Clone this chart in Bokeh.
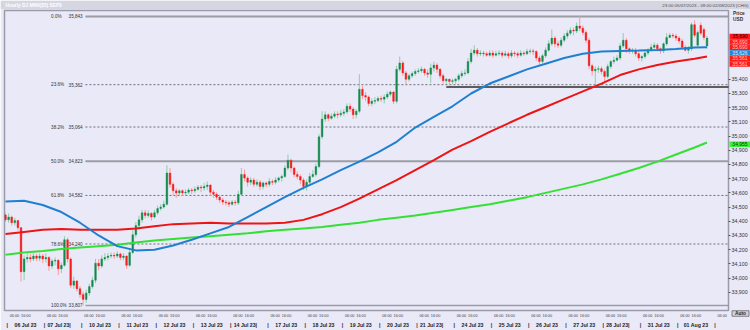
from bokeh.plotting import figure
from bokeh.models import (ColumnDataSource, Range1d, LinearAxis, FixedTicker,
                          NumeralTickFormatter, AllLabels)
from bokeh.core.properties import value
from bokeh.embed import file_html
from bokeh.resources import INLINE

# ---------------- data (2-hour candles, DJ MINI $5 SEP3) ----------------
opens = [
    34445, 34410, 34430, 34390, 34405, 34355, 34045, 34135, 34145, 34135, 34155, 34140,
    34155, 34135, 34145, 34085, 34120, 34125, 34065, 34090, 34270, 34135, 33950, 33980,
    33925, 33885, 33850, 33895, 33940, 33985, 34105, 34085, 34135, 34145, 34155, 34160,
    34155, 34170, 34145, 34155, 34090, 34180, 34305, 34370, 34410, 34460, 34440, 34455,
    34430, 34460, 34490, 34500, 34520, 34740, 34660, 34615, 34600, 34615, 34600, 34605,
    34620, 34615, 34625, 34640, 34635, 34645, 34655, 34605, 34590, 34570, 34550, 34535,
    34530, 34520, 34535, 34530, 34590, 34730, 34705, 34675, 34690, 34660, 34675, 34645,
    34670, 34660, 34680, 34675, 34690, 34705, 34715, 34775, 34830, 34775, 34730, 34715,
    34690, 34645, 34675, 34715, 34730, 34785, 34995, 35120, 35150, 35125, 35140, 35155,
    35150, 35160, 35170, 35210, 35190, 35150, 35175, 35330, 35285, 35275, 35230, 35245,
    35250, 35265, 35260, 35275, 35295, 35310, 35245, 35470, 35515, 35445, 35400, 35425,
    35440, 35455, 35460, 35470, 35445, 35435, 35480, 35500, 35470, 35425, 35390, 35400,
    35385, 35390, 35400, 35425, 35440, 35445, 35525, 35585, 35605, 35580, 35585, 35580,
    35570, 35585, 35570, 35580, 35585, 35570, 35580, 35565, 35585, 35580, 35570, 35585,
    35580, 35595, 35600, 35595, 35550, 35525, 35565, 35605, 35650, 35690, 35650, 35640,
    35675, 35705, 35725, 35745, 35740, 35775, 35760, 35730, 35675, 35495, 35460, 35470,
    35475, 35455, 35420, 35490, 35525, 35535, 35550, 35635, 35675, 35615, 35600, 35605,
    35580, 35550, 35560, 35585, 35605, 35625, 35640, 35615, 35600, 35650, 35695, 35710,
    35705, 35690, 35670, 35625, 35605, 35615, 35785, 35640, 35780, 35750, 35635,
]
closes = [
    34410, 34430, 34390, 34405, 34355, 34045, 34135, 34145, 34135, 34155, 34140, 34155,
    34135, 34145, 34085, 34120, 34125, 34065, 34090, 34270, 34135, 33950, 33980, 33925,
    33885, 33850, 33895, 33940, 33985, 34105, 34085, 34135, 34145, 34155, 34160, 34155,
    34170, 34145, 34155, 34090, 34180, 34305, 34370, 34410, 34460, 34440, 34455, 34430,
    34460, 34490, 34500, 34520, 34740, 34660, 34615, 34600, 34615, 34600, 34605, 34620,
    34615, 34625, 34640, 34635, 34645, 34655, 34605, 34590, 34570, 34550, 34535, 34530,
    34520, 34535, 34530, 34590, 34730, 34705, 34675, 34690, 34660, 34675, 34645, 34670,
    34660, 34680, 34675, 34690, 34705, 34715, 34775, 34830, 34775, 34730, 34715, 34690,
    34645, 34675, 34715, 34730, 34785, 34995, 35120, 35150, 35125, 35140, 35155, 35150,
    35160, 35170, 35210, 35190, 35150, 35175, 35330, 35285, 35275, 35230, 35245, 35250,
    35265, 35260, 35275, 35295, 35310, 35245, 35470, 35515, 35445, 35400, 35425, 35440,
    35455, 35460, 35470, 35445, 35435, 35480, 35500, 35470, 35425, 35390, 35400, 35385,
    35390, 35400, 35425, 35440, 35445, 35525, 35585, 35605, 35580, 35585, 35580, 35570,
    35585, 35570, 35580, 35585, 35570, 35580, 35565, 35585, 35580, 35570, 35585, 35580,
    35595, 35600, 35595, 35550, 35525, 35565, 35605, 35650, 35690, 35650, 35640, 35675,
    35705, 35725, 35745, 35740, 35775, 35760, 35730, 35675, 35495, 35460, 35470, 35475,
    35455, 35420, 35490, 35525, 35535, 35550, 35635, 35675, 35615, 35600, 35605, 35580,
    35550, 35560, 35585, 35605, 35625, 35640, 35615, 35600, 35650, 35695, 35710, 35705,
    35690, 35670, 35625, 35605, 35615, 35785, 35710, 35730, 35725, 35695, 35690,
]
highs = [
    34460, 34455, 34440, 34425, 34410, 34360, 34160, 34175, 34170, 34175, 34170, 34175,
    34170, 34175, 34155, 34135, 34145, 34135, 34110, 34295, 34285, 34145, 34010, 33985,
    33945, 33905, 33920, 33960, 34010, 34135, 34135, 34160, 34175, 34175, 34180, 34180,
    34190, 34180, 34175, 34160, 34205, 34340, 34395, 34440, 34480, 34480, 34475, 34465,
    34480, 34510, 34520, 34545, 34795, 34775, 34675, 34635, 34625, 34625, 34625, 34635,
    34635, 34645, 34655, 34655, 34670, 34680, 34660, 34620, 34605, 34585, 34565, 34550,
    34545, 34550, 34550, 34615, 34775, 34765, 34715, 34710, 34705, 34695, 34690, 34680,
    34680, 34705, 34695, 34710, 34715, 34730, 34795, 34870, 34840, 34785, 34750, 34730,
    34705, 34695, 34740, 34760, 34805, 35015, 35175, 35175, 35160, 35160, 35175, 35175,
    35185, 35190, 35230, 35230, 35205, 35190, 35435, 35355, 35310, 35285, 35265, 35275,
    35280, 35285, 35295, 35315, 35320, 35315, 35495, 35560, 35530, 35460, 35440, 35455,
    35470, 35480, 35490, 35480, 35470, 35510, 35525, 35515, 35480, 35440, 35410, 35405,
    35405, 35410, 35440, 35460, 35470, 35550, 35615, 35640, 35620, 35605, 35600, 35595,
    35605, 35605, 35600, 35605, 35600, 35600, 35595, 35605, 35600, 35595, 35605, 35600,
    35615, 35615, 35615, 35605, 35565, 35580, 35625, 35675, 35750, 35705, 35670, 35695,
    35725, 35745, 35765, 35765, 35800, 35843, 35780, 35745, 35690, 35510, 35490, 35495,
    35490, 35470, 35510, 35535, 35560, 35570, 35655, 35725, 35690, 35625, 35620, 35620,
    35595, 35570, 35605, 35620, 35650, 35660, 35655, 35625, 35660, 35725, 35725, 35725,
    35720, 35705, 35685, 35640, 35635, 35800, 35815, 35745, 35800, 35765, 35705,
]
lows = [
    34395, 34390, 34370, 34370, 34335, 33975, 33985, 34110, 34110, 34120, 34120, 34120,
    34105, 34110, 34050, 34065, 34090, 34020, 34035, 34080, 34110, 33930, 33925, 33905,
    33860, 33807, 33825, 33875, 33925, 33965, 34055, 34070, 34120, 34125, 34140, 34135,
    34140, 34125, 34125, 34065, 34080, 34170, 34285, 34340, 34390, 34420, 34425, 34405,
    34420, 34445, 34475, 34490, 34510, 34635, 34580, 34565, 34585, 34580, 34585, 34590,
    34590, 34600, 34615, 34605, 34615, 34620, 34580, 34565, 34550, 34530, 34515, 34510,
    34500, 34510, 34510, 34515, 34580, 34680, 34645, 34655, 34640, 34645, 34620, 34625,
    34640, 34645, 34655, 34660, 34675, 34680, 34705, 34760, 34745, 34710, 34695, 34660,
    34620, 34615, 34660, 34705, 34715, 34775, 34980, 35100, 35105, 35115, 35125, 35125,
    35135, 35140, 35155, 35170, 35120, 35125, 35160, 35260, 35245, 35210, 35210, 35225,
    35240, 35240, 35230, 35260, 35280, 35225, 35230, 35455, 35425, 35365, 35385, 35410,
    35425, 35440, 35445, 35425, 35410, 35375, 35455, 35445, 35405, 35370, 35370, 35355,
    35365, 35370, 35385, 35410, 35425, 35435, 35510, 35570, 35560, 35565, 35560, 35560,
    35560, 35550, 35560, 35565, 35550, 35560, 35545, 35550, 35560, 35550, 35560, 35565,
    35570, 35580, 35570, 35530, 35500, 35510, 35550, 35595, 35635, 35625, 35620, 35625,
    35660, 35685, 35710, 35710, 35725, 35740, 35710, 35655, 35470, 35425, 35365, 35445,
    35435, 35370, 35405, 35475, 35510, 35525, 35535, 35620, 35585, 35580, 35580, 35560,
    35530, 35525, 35545, 35570, 35595, 35615, 35595, 35580, 35585, 35635, 35690, 35690,
    35670, 35650, 35605, 35595, 35580, 35600, 35695, 35625, 35710, 35675, 35615,
]

# moving averages, sampled every 6 candles (last point = last candle)
ma_idx = list(range(0, 223, 6)) + [226]
ma_blue = [34540, 34545, 34515, 34465, 34390, 34300, 34225, 34195, 34200, 34230,
           34270, 34315, 34360, 34430, 34500, 34570, 34635, 34695, 34760, 34820,
           34885, 34960, 35060, 35135, 35210, 35300, 35370, 35420, 35470, 35510,
           35550, 35580, 35595, 35600, 35603, 35607, 35613, 35624, 35626]
ma_red = [34310, 34325, 34340, 34345, 34340, 34340, 34340, 34350, 34365, 34380,
          34385, 34390, 34385, 34385, 34385, 34390, 34410, 34450, 34500, 34560,
          34625, 34690, 34760, 34830, 34905, 34965, 35030, 35090, 35150, 35205,
          35260, 35315, 35370, 35430, 35470, 35500, 35525, 35545, 35561]
ma_green = [34165, 34180, 34190, 34205, 34215, 34225, 34235, 34250, 34265, 34275,
            34285, 34295, 34305, 34315, 34330, 34340, 34350, 34360, 34375, 34390,
            34410, 34425, 34440, 34460, 34480, 34500, 34520, 34545, 34570, 34600,
            34630, 34660, 34695, 34735, 34775, 34820, 34870, 34920, 34955]

fib_pct = ["0.0%", "23.6%", "38.2%", "50.0%", "61.8%", "78.6%", "100.0%"]
fib_val = [35843, 35362, 35064, 34823, 34582, 34240, 33807]
fib_solid = [True, False, False, True, False, False, True]
support_level = 35345
support_start = 142

y_ticks = [33900, 34000, 34100, 34200, 34300, 34400, 34500, 34600, 34700,
           34800, 34900, 35000, 35100, 35200, 35300, 35400]

day_labels = ["06 Jul 23", "07 Jul 23", "10 Jul 23", "11 Jul 23", "12 Jul 23",
              "13 Jul 23", "14 Jul 23", "17 Jul 23", "18 Jul 23", "19 Jul 23",
              "20 Jul 23", "21 Jul 23", "24 Jul 23", "25 Jul 23", "26 Jul 23",
              "27 Jul 23", "28 Jul 23", "31 Jul 23", "01 Aug 23"]
fridays = ["07 Jul 23", "14 Jul 23", "21 Jul 23", "28 Jul 23"]
time_labels = ["06:00", "16:00"]

box_text = ["35,690", "35,690", "35,690", "35,626", "35,561", "35,561"]
box_fill = ["#ff1a1a", "#ff1a1a", "#ff1a1a", "#1e88d8", "#ff1a1a", "#ff1a1a"]
box_color = ["#1a0000", "#ffc4c4", "#ffc4c4", "#dff0ff", "#ffc4c4", "#ffc4c4"]
green_box_text = "34,955"
green_box_value = 34955

title_text = "Hourly DJ MINI($5) SEP3"
range_text = "23:00 05/07/2023 - 09:00 02/08/2023 (CHG)"

# ---------------- layout constants ----------------
W, H = 750, 330
FRAME_L, FRAME_R, FRAME_T, FRAME_B = 4, 729, 10, 314
PX_PER_BAR = 37.3 / 12.0
X0 = -1.0 / PX_PER_BAR
X1 = X0 + (FRAME_R - FRAME_L) / PX_PER_BAR
Y_TOP, Y_BOT = 35884.5, 33771.7
BG = "#e9e9f8"
FONT = "Liberation Sans"


def val_to_py(v):
    return FRAME_T + (Y_TOP - v) * (FRAME_B - FRAME_T) / (Y_TOP - Y_BOT)


p = figure(width=W, height=H, x_range=Range1d(X0, X1), y_range=Range1d(Y_BOT, Y_TOP),
           output_backend="svg", toolbar_location=None,
           x_axis_location=None, y_axis_location=None,
           min_border_left=FRAME_L, min_border_right=W - FRAME_R,
           min_border_top=FRAME_T, min_border_bottom=H - FRAME_B,
           background_fill_color=BG, border_fill_color=BG,
           outline_line_color="#9a9aaa", outline_line_width=1.5)
p.grid.visible = False

# ---- fibonacci levels ----
low_idx = lows.index(min(lows))
fx0 = low_idx + 0.75
for val, solid in zip(fib_val, fib_solid):
    if solid:
        p.segment(x0=[fx0], y0=[val], x1=[X1 + 5], y1=[val], line_color="#9c9ca4",
                  line_width=2 if val != fib_val[-1] else 1.5)
    else:
        p.segment(x0=[fx0], y0=[val], x1=[X1 + 5], y1=[val], line_color="#6e6e78",
                  line_width=1, line_dash="2 2")
fib_src = ColumnDataSource(dict(x=[low_idx] * len(fib_val), y=fib_val, pct=fib_pct,
                                val=[f"{v:,}" for v in fib_val]))
p.text(x="x", y="y", text="pct", source=fib_src, x_offset=-32, text_align="left",
       text_baseline="middle", text_font_size="4.6px", text_color="#333333",
       text_font=value(FONT))
p.text(x="x", y="y", text="val", source=fib_src, x_offset=-14.5, text_align="left",
       text_baseline="middle", text_font_size="4.6px", text_color="#333333",
       text_font=value(FONT))

# ---- support line ----
p.segment(x0=[support_start], y0=[support_level], x1=[X1 + 5], y1=[support_level],
          line_color="#2e2e2e", line_width=1.5)

# ---- candles ----
idx = list(range(len(closes)))
up = [c >= o for o, c in zip(opens, closes)]
csrc = ColumnDataSource(dict(
    x=idx, h=highs, l=lows,
    top=[max(o, c) for o, c in zip(opens, closes)],
    bot=[min(o, c) for o, c in zip(opens, closes)],
    bc=["#138a4c" if u else "#f41c1c" for u in up],
    wc=["#8ccfae" if u else "#ff9a9a" for u in up],
))
p.segment(x0="x", y0="l", x1="x", y1="h", source=csrc, line_color="wc", line_width=1)
p.vbar(x="x", width=0.55, top="top", bottom="bot", source=csrc,
       fill_color="bc", line_color="bc", line_width=0.4)

# ---- moving averages ----
p.line(ma_idx, ma_green, line_color="#35e035", line_width=2)
p.line(ma_idx, ma_red, line_color="#ee1414", line_width=2)
p.line(ma_idx, ma_blue, line_color="#1f80cf", line_width=2)

# ---- right price axis ----
ya = LinearAxis(ticker=FixedTicker(ticks=y_ticks), formatter=NumeralTickFormatter(format="0,0"),
                major_label_text_font_size="5.3px", major_label_text_color="#333333",
                major_label_text_font=FONT, major_tick_out=2, major_tick_in=0,
                major_tick_line_color="#555555", minor_tick_line_color=None,
                axis_line_color=None, major_label_standoff=1)
p.add_layout(ya, "right")

# ---- time axes below ----
DAY0 = 0.55
t_ticks, t_over = [], {}
d_ticks, d_over = [], {}
for d in range(len(day_labels) + 1):
    sep = DAY0 + 12 * d
    for off, lab in zip([2.35, 6.0], time_labels):
        t = round(sep + off, 3)
        t_ticks.append(t)
        t_over[t] = lab
    s = round(sep, 3)
    d_ticks.append(s)
    d_over[s] = "|"
    if d < len(day_labels):
        lab = day_labels[d]
        c = round(sep + (4.5 if lab in fridays else 5.9), 3)
        d_ticks.append(c)
        d_over[c] = lab
        if lab in fridays:
            e = round(sep + 8.2, 3)
            d_ticks.append(e)
            d_over[e] = "|"

tx = LinearAxis(ticker=FixedTicker(ticks=t_ticks), major_label_overrides=t_over,
                major_label_text_font_size="3.8px", major_label_text_color="#444444",
                major_label_text_font=FONT, major_tick_out=0, major_tick_in=0,
                minor_tick_line_color=None, axis_line_color=None, major_label_standoff=3,
                major_label_policy=AllLabels())
p.add_layout(tx, "below")
dx = LinearAxis(ticker=FixedTicker(ticks=d_ticks), major_label_overrides=d_over,
                major_label_text_font_size="5.2px", major_label_text_font_style="bold",
                major_label_text_color="#222222", major_label_text_font=FONT,
                major_tick_out=0, major_tick_in=0, minor_tick_line_color=None,
                axis_line_color=None, major_label_standoff=1,
                major_label_policy=AllLabels())
p.add_layout(dx, "below")

# ---------------- transparent overlay (separate root) for panel texts & price boxes ----------------
ov = figure(width=W, height=H, x_range=Range1d(0, W), y_range=Range1d(H, 0),
            output_backend="svg", toolbar_location=None,
            x_axis_location=None, y_axis_location=None,
            min_border_left=0, min_border_right=0, min_border_top=0, min_border_bottom=0,
            background_fill_alpha=0, border_fill_alpha=0, outline_line_color=None,
            styles={"position": "absolute", "left": "0px", "top": "0px",
                    "width": f"{W}px", "height": f"{H}px", "z-index": "2"})
ov.grid.visible = False

# header strip
ov.quad(left=[0], right=[W], top=[0], bottom=[8.5], fill_color="#d6d6e3", line_color=None)
ov.text(x=[5], y=[4.5], text=[title_text], text_font=value(FONT), text_font_size="4.8px",
        text_font_style="bold", text_color="#ffffff", text_align="left",
        text_baseline="middle")
ov.text(x=[748], y=[4.5], text=[range_text], text_font=value(FONT), text_font_size="4.4px",
        text_color="#4a4a4a", text_align="right", text_baseline="middle")
ov.text(x=[732.5, 732.5], y=[12.5, 19], text=["Price", "USD"], text_font=value(FONT),
        text_font_size="4.8px", text_font_style="bold", text_color="#333333",
        text_align="left", text_baseline="middle")

# stacked price boxes (last price and moving-average values)
ROW_H = 5.5
top_py = val_to_py(closes[-1]) - 2
box_y = [top_py + i * ROW_H for i in range(len(box_text))]
bsrc = ColumnDataSource(dict(y=box_y, t=box_text, f=box_fill, c=box_color))
ov.rect(x=739.5, y="y", width=21, height=ROW_H, source=bsrc, fill_color="f",
        line_color=None)
ov.text(x=739.5, y="y", text="t", source=bsrc, text_color="c", text_font=value(FONT),
        text_font_size="5px", text_align="center", text_baseline="middle")
gy = val_to_py(green_box_value)
ov.rect(x=[739.5], y=[gy], width=21, height=ROW_H, fill_color="#3cf03c", line_color=None)
ov.text(x=[739.5], y=[gy], text=[green_box_text], text_color="#0e3a0e",
        text_font=value(FONT), text_font_size="5px", text_align="center",
        text_baseline="middle")
# auto button
ov.rect(x=[740], y=[313], width=17, height=5.5, fill_color="#d3d3df",
        line_color="#666666", line_width=0.8)
ov.text(x=[740], y=[313], text=["Auto"], text_color="#222222", text_font=value(FONT),
        text_font_size="4.8px", text_font_style="bold", text_align="center",
        text_baseline="middle")

open("out.html", "w").write(file_html([p, ov], INLINE))
